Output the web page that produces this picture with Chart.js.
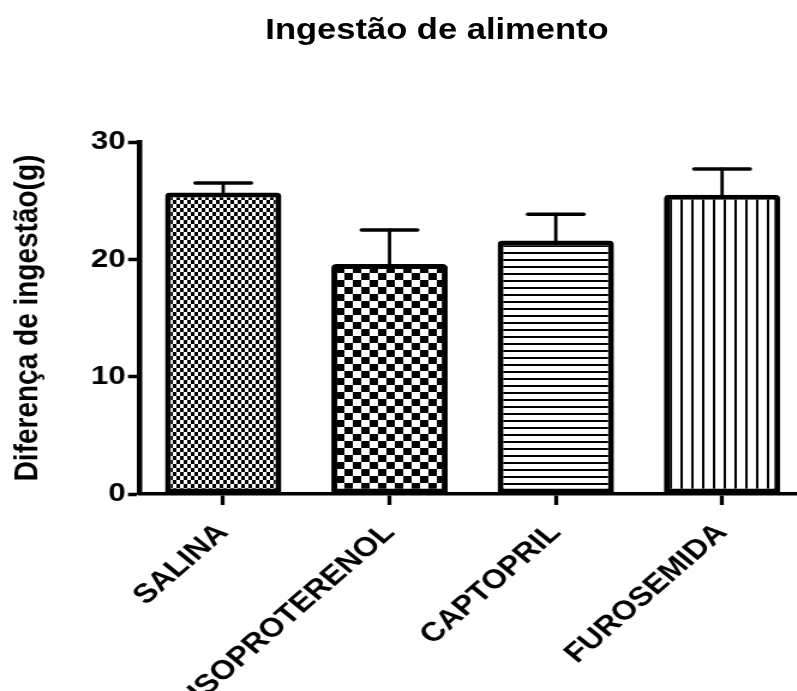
<!DOCTYPE html>
<html lang="pt">
<head>
<meta charset="utf-8">
<title>Ingestão de alimento</title>
<script src="https://cdn.jsdelivr.net/npm/chart.js@4.4.1/dist/chart.umd.min.js"></script>
<style>
  html, body { margin: 0; padding: 0; background: #fff; overflow: hidden; }
  #wrap { position: relative; width: 797px; height: 691px; overflow: hidden; }
  #grafico { position: absolute; left: 0; top: 0; }
  #titulo {
    position: absolute; left: 0; top: 13px; width: 874px;
    text-align: center; line-height: 29px;
    font: bold 29px "Liberation Sans", Arial, sans-serif; color: #000;
    transform: scaleX(1.19); transform-origin: 437px 0;
  }
</style>
</head>
<body>
<div id="wrap">
  <!-- o gráfico original está esticado na horizontal, por isso o canvas também -->
  <canvas id="grafico" width="690" height="691" style="width: 828px; height: 691px;"></canvas>
  <div id="titulo">Ingestão de alimento</div>
</div>
<script>
// Dados
const grupos = ['SALINA', 'ISOPROTERENOL', 'CAPTOPRIL', 'FUROSEMIDA'];
const ingestao = [25.7, 19.6, 21.6, 25.5];
const erroPadrao = [0.8, 2.9, 2.25, 2.2];
const ticksY = [0, 10, 20, 30];

const FONTE = '"Liberation Sans", Arial, sans-serif';

// Cria um padrão preto e branco para o preenchimento das barras
function makePattern(w, h, draw) {
  const c = document.createElement('canvas');
  c.width = w;
  c.height = h;
  const g = c.getContext('2d');
  g.fillStyle = '#fff';
  g.fillRect(0, 0, w, h);
  g.fillStyle = '#000';
  draw(g, w, h);
  return g.createPattern(c, 'repeat');
}

const xadrez = (g, w, h) => {
  g.fillRect(0, 0, w / 2, h / 2);
  g.fillRect(w / 2, h / 2, w / 2, h / 2);
};

const padroes = [
  makePattern(6, 8, xadrez),                                  // xadrez fino
  makePattern(14, 14, xadrez),                                // xadrez grosso
  makePattern(1, 7, (g) => g.fillRect(0, 0, 1, 2)),          // linhas horizontais
  makePattern(9, 1, (g) => g.fillRect(0, 0, 2, 1)),          // linhas verticais
];

// Plugin para as barras de erro (só para cima)
const errorBars = {
  id: 'errorBars',
  afterDatasetsDraw(chart, args, opts) {
    const { ctx, scales: { y } } = chart;
    const meta = chart.getDatasetMeta(0);
    ctx.save();
    ctx.strokeStyle = opts.color;
    ctx.lineCap = 'round';
    meta.data.forEach((bar, i) => {
      const top = y.getPixelForValue(ingestao[i] + erroPadrao[i]);
      const half = bar.width * opts.capRatio / 2;
      ctx.lineWidth = opts.stemWidth;
      ctx.beginPath();
      ctx.moveTo(bar.x, bar.y);
      ctx.lineTo(bar.x, top);
      ctx.stroke();
      ctx.lineWidth = opts.capWidth;
      ctx.beginPath();
      ctx.moveTo(bar.x - half, top);
      ctx.lineTo(bar.x + half, top);
      ctx.stroke();
    });
    ctx.restore();
  },
};

new Chart(document.getElementById('grafico'), {
  type: 'bar',
  data: {
    labels: grupos,
    datasets: [{
      data: ingestao,
      backgroundColor: padroes,
      borderColor: '#000',
      borderWidth: 5,
      borderSkipped: false,
      borderRadius: { topLeft: 4, topRight: 4 },
      categoryPercentage: 1,
      barPercentage: 0.7,
    }],
  },
  options: {
    responsive: false,
    maintainAspectRatio: false,
    devicePixelRatio: 1,
    animation: false,
    layout: { padding: { top: 142, right: 19, left: 0, bottom: 0 } },
    plugins: {
      legend: { display: false },
      tooltip: { enabled: false },
      errorBars: { color: '#000', stemWidth: 2.8, capWidth: 3.5, capRatio: 0.48 },
    },
    scales: {
      y: {
        min: 0,
        max: 30,
        afterFit: (scale) => { scale.width = 116.7; },
        afterBuildTicks: (scale) => { scale.ticks = ticksY.map((v) => ({ value: v })); },
        ticks: {
          color: '#000',
          font: { family: FONTE, weight: 'bold', size: 26 },
          padding: 2,
        },
        grid: {
          drawOnChartArea: false,
          drawTicks: true,
          tickLength: 10,
          tickWidth: 3.5,
          tickColor: '#000',
        },
        border: { color: '#000', width: 4.5 },
        title: {
          display: true,
          text: 'Diferença de ingestão(g)',
          color: '#000',
          font: { family: FONTE, weight: 'bold', size: 28 },
          padding: { top: 6, bottom: 0 },
        },
      },
      x: {
        offset: true,
        afterFit: (scale) => { scale.height = 197; },
        ticks: {
          autoSkip: false,
          minRotation: 46,
          maxRotation: 46,
          color: '#000',
          font: { family: FONTE, weight: 'bold', size: 27 },
          padding: 12,
        },
        grid: {
          offset: false,
          drawOnChartArea: false,
          drawTicks: true,
          tickLength: 11,
          tickWidth: 3.3,
          tickColor: '#000',
        },
        border: { color: '#000', width: 3.5 },
      },
    },
  },
  plugins: [errorBars],
});
</script>
</body>
</html>
